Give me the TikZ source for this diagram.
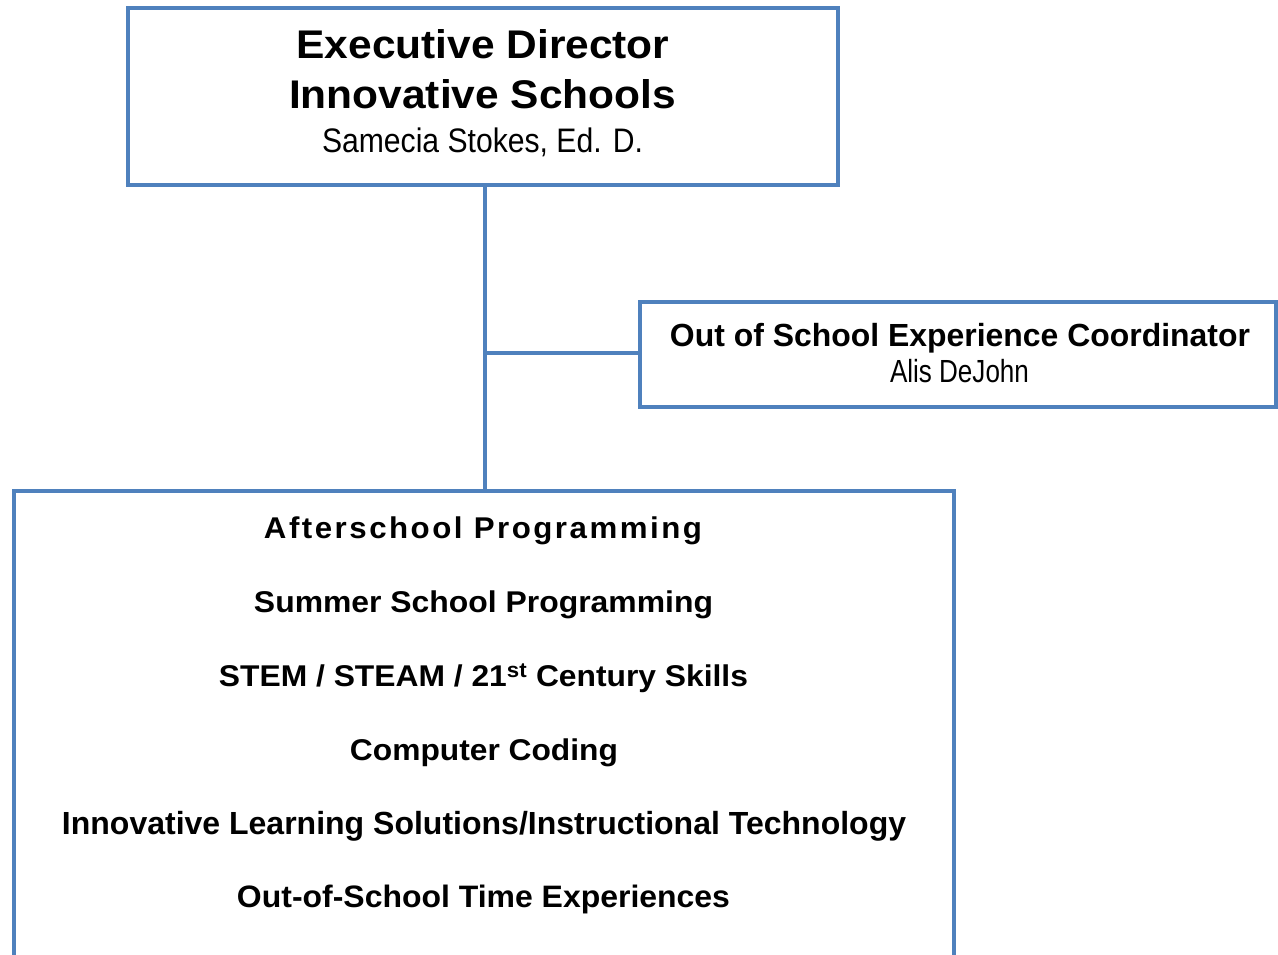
\documentclass[tikz,border=0pt]{standalone}
\usepackage{fontspec}
\setmainfont{Liberation Sans}
\usepackage{graphicx}
\definecolor{boxblue}{RGB}{79,129,189}
\newcommand{\fitw}[2]{\resizebox{#1pt}{\height}{#2}}
\begin{document}
\begin{tikzpicture}[x=1pt,y=-1pt,
  box/.style={draw=boxblue, line width=4.5pt, fill=white, rectangle, inner sep=0pt},
  conn/.style={draw=boxblue, line width=4.5pt},
  txt/.style={anchor=base, inner sep=0pt, text=black}]
\clip (0,0) rectangle (1278,954);
\fill[white] (0,0) rectangle (1278,954);
% boxes
\node[box, minimum width=710pt, minimum height=177pt] (top) at (483,96.5) {};
\node[box, minimum width=636pt, minimum height=105pt] (coord) at (958,354.5) {};
\node[box, minimum width=940pt, minimum height=540pt] (prog) at (484,761) {};
% connectors
\coordinate (j) at (485,353);
\draw[conn] (top.south -| j) -- (prog.north -| j);
\draw[conn] (j) -- (coord.west |- j);
% top box text
\node[txt] (t1) at (483,58.5) {\fitw{373}{\fontsize{40}{44}\selectfont\bfseries Executive Director}};
\node[txt] (t2) at (482.5,108.5) {\fitw{387}{\fontsize{40}{44}\selectfont\bfseries Innovative Schools}};
\node[txt] (t3) at (482.5,152.5) {\fitw{321}{\fontsize{34}{38}\selectfont Samecia Stokes, Ed. D.}};
% coordinator text
\node[txt] (c1) at (960,346) {\fitw{580}{\fontsize{32}{36}\selectfont\bfseries Out of School Experience Coordinator}};
\node[txt] (c2) at (959.5,382.5) {\fitw{139}{\fontsize{32}{36}\selectfont Alis DeJohn}};
% programming list
\node[txt] (p1) at (483,538.7) {\fitw{438}{\fontsize{30}{34}\selectfont\bfseries\addfontfeature{LetterSpace=8}Afterschool Programming}};
\node[txt] (p2) at (483.5,612.7) {\fitw{459}{\fontsize{30}{34}\selectfont\bfseries Summer School Programming}};
\node[txt] (p3) at (483.5,686.7) {\fitw{529}{\fontsize{30}{34}\selectfont\bfseries STEM / STEAM / 21\textsuperscript{st} Century Skills}};
\node[txt] (p4) at (484,760.7) {\fitw{268}{\fontsize{30}{34}\selectfont\bfseries Computer Coding}};
\node[txt] (p5) at (484,834.4) {\fitw{844}{\fontsize{32}{36}\selectfont\bfseries Innovative Learning Solutions/Instructional Technology}};
\node[txt] (p6) at (483.5,907) {\fitw{493}{\fontsize{31}{35}\selectfont\bfseries Out-of-School Time Experiences}};
\end{tikzpicture}
\end{document}
